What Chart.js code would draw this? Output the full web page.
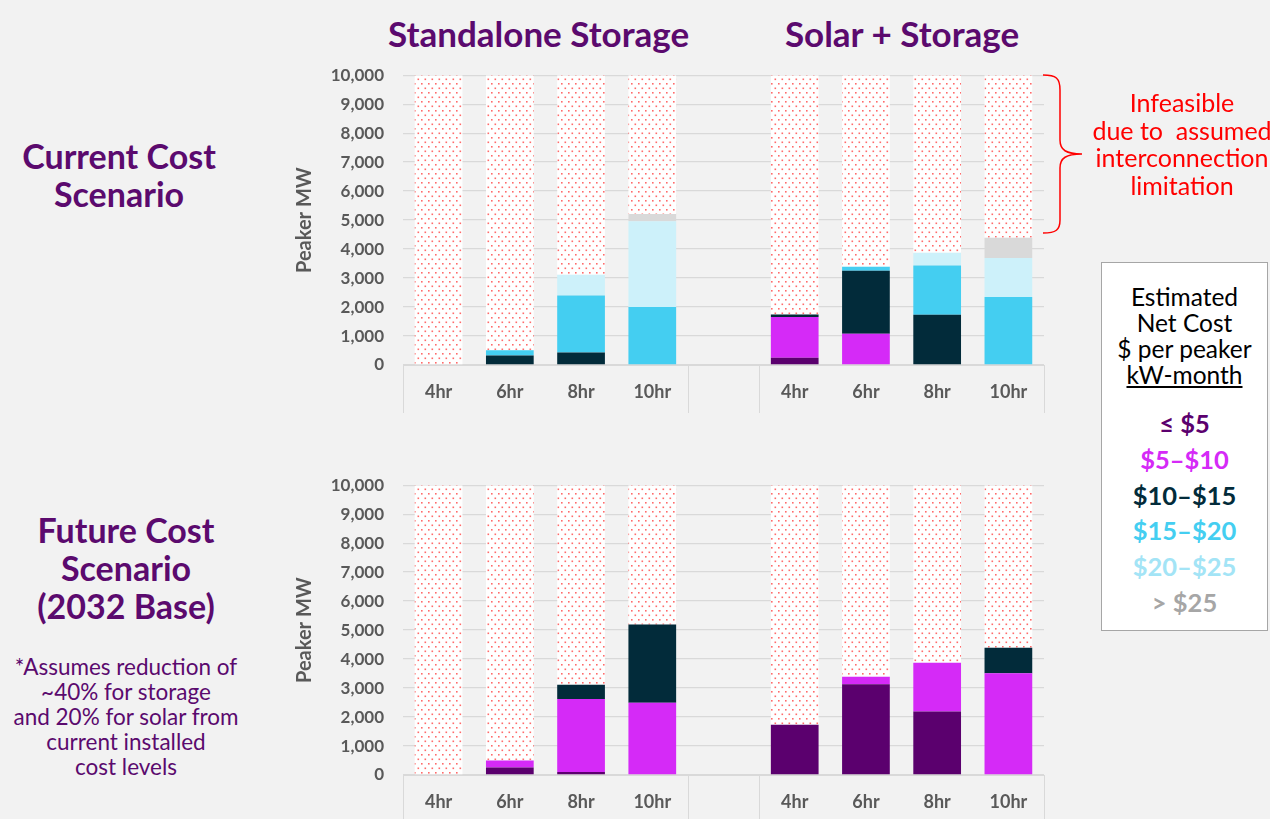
<!DOCTYPE html>
<html>
<head>
<meta charset="utf-8">
<script src="https://cdn.jsdelivr.net/npm/chart.js@4"></script>
<style>
  body { margin: 0; width: 1270px; height: 819px; background: #F2F2F2; position: relative; overflow: hidden; font-family: Lato, "Open Sans", sans-serif; }
  .abs { position: absolute; }
  .head { color: #5B0A6E; font-weight: bold; font-size: 35px; white-space: nowrap; text-align: center; }
  .side { color: #5B0A6E; font-weight: bold; font-size: 34px; line-height: 38px; text-align: center; white-space: nowrap; }
  .note { color: #5B0A6E; font-size: 22.5px; line-height: 25px; text-align: center; white-space: nowrap; }
  .red { color: #FF0000; font-size: 25px; line-height: 27.7px; text-align: center; white-space: nowrap; }
  #legend { left: 1101px; top: 262px; width: 165px; height: 367px; background: #fff; border: 1.5px solid #A6A6A6; text-align: center; }
  #legend .t { font-size: 24.5px; line-height: 26px; color: #000; margin-top: 21px; }
  #legend .b { font-size: 25.5px; font-weight: bold; line-height: 35.8px; margin-top: 18px; }
  canvas { position: absolute; }
</style>
</head>
<body>
<div class="abs head" style="left:388px; top:12px; width:300px;">Standalone Storage</div>
<div class="abs head" style="left:752px; top:12px; width:300px;">Solar + Storage</div>

<div class="abs side" style="left:0; top:137px; width:238px;">Current Cost<br>Scenario</div>
<div class="abs side" style="left:0; top:511px; width:252px;">Future Cost<br>Scenario<br>(2032 Base)</div>
<div class="abs note" style="left:0; top:654px; width:252px;">*Assumes reduction of<br>~40% for storage<br>and 20% for solar from<br>current installed<br>cost levels</div>

<canvas id="currentChart" width="780" height="374" style="left:280px; top:46px;"></canvas>
<canvas id="futureChart" width="780" height="374" style="left:280px; top:456px;"></canvas>

<svg class="abs" style="left:1038px; top:70px;" width="60" height="170">
  <path d="M5,5 C18,5 22,8 22,20 L22,70 C22,80 28,84 44,84 C28,84 22,88 22,98 L22,150 C22,160 18,163 5,163" fill="none" stroke="#FF0000" stroke-width="1.5"/>
</svg>
<div class="abs red" style="left:1090px; top:89px; width:184px;">Infeasible<br>due to&nbsp; assumed<br>interconnection<br>limitation</div>

<div id="legend" class="abs">
  <div class="t">Estimated<br>Net Cost<br>$ per peaker<br><u>kW-month</u></div>
  <div class="b" id="legendItems"></div>
</div>

<script>
// categories: two groups of durations with an empty spacer in between
const categories = ['4hr', '6hr', '8hr', '10hr', '', '4hr', '6hr', '8hr', '10hr'];
const costBands = ['≤ $5', '$5–$10', '$10–$15', '$15–$20', '$20–$25', '> $25'];
const bandColors = ['#5B006E', '#D52AF7', '#022B3A', '#44CEF1', '#CDF1FA', '#D9D9D9'];
const legendTextColors = ['#5B006E', '#D52AF7', '#022B3A', '#44CEF1', '#A3E4F6', '#A6A6A6'];
const yTicks = [0, 1000, 2000, 3000, 4000, 5000, 6000, 7000, 8000, 9000, 10000];

// Current cost scenario (MW)
const curLe5      = [0, 0, 0, 0, null, 250, 0, 0, 0];
const cur5to10    = [0, 0, 0, 0, null, 1410, 1080, 0, 0];
const cur10to15   = [0, 330, 430, 0, null, 80, 2170, 1730, 0];
const cur15to20   = [0, 180, 1970, 2000, null, 0, 140, 1700, 2350];
const cur20to25   = [0, 0, 710, 2960, null, 0, 0, 440, 1340];
const curOver25   = [0, 0, 0, 250, null, 0, 0, 0, 700];
const curInfeasible = [10000, 9490, 6890, 4790, null, 8260, 6610, 6130, 5610];

// Future cost scenario (2032 base)
const futLe5      = [0, 260, 100, 0, null, 1730, 3130, 2190, 0];
const fut5to10    = [0, 240, 2520, 2490, null, 0, 260, 1680, 3510];
const fut10to15   = [0, 0, 490, 2700, null, 0, 0, 0, 880];
const futInfeasible = [10000, 9500, 6890, 4810, null, 8270, 6610, 6130, 5610];

// legend entries
document.getElementById('legendItems').innerHTML = costBands
  .map((b, i) => `<div style="color:${legendTextColors[i]}">${b}</div>`).join('');

// dotted fill for the infeasible part
function dotPattern() {
  const c = document.createElement('canvas');
  c.width = 7; c.height = 9;
  const g = c.getContext('2d');
  g.fillStyle = '#ffffff';
  g.fillRect(0, 0, 7, 9);
  g.fillStyle = 'rgba(255,70,70,0.8)';
  g.fillRect(1, 1, 1.6, 1.6);
  g.fillRect(4.5, 5.5, 1.6, 1.6);
  return g.createPattern(c, 'repeat');
}
const infeasibleFill = dotPattern();

// category separators under the axis
const separators = {
  id: 'separators',
  afterDraw(chart) {
    const x = chart.scales.x, ctx = chart.ctx;
    const w = (x.right - x.left) / categories.length;
    const edges = [x.left, x.left + 4 * w, x.left + 5 * w, x.right];
    ctx.save();
    ctx.strokeStyle = '#D9D9D9';
    ctx.lineWidth = 1;
    edges.forEach(px => {
      ctx.beginPath();
      ctx.moveTo(Math.round(px) + 0.5, x.top);
      ctx.lineTo(Math.round(px) + 0.5, x.bottom);
      ctx.stroke();
    });
    ctx.restore();
  }
};

function makeChart(id, bands) {
  const datasets = bands.map(([label, data, color]) => ({
    label, data, backgroundColor: color, borderWidth: 0
  }));
  return new Chart(document.getElementById(id), {
    type: 'bar',
    data: { labels: categories, datasets },
    options: {
      responsive: false,
      animation: false,
      layout: { padding: { top: 0, bottom: 7, left: 0, right: 16 } },
      datasets: { bar: { categoryPercentage: 1, barPercentage: 0.67 } },
      plugins: { legend: { display: false }, tooltip: { enabled: false } },
      scales: {
        x: {
          stacked: true,
          grid: { display: false },
          border: { display: true, color: '#D9D9D9', width: 1 },
          ticks: { color: '#595959', font: { family: 'Lato', size: 18, weight: 'bold' }, padding: 8 },
          afterFit(s) { s.height = 48; }
        },
        y: {
          stacked: true,
          min: 0, max: 10000,
          afterBuildTicks(s) { s.ticks = yTicks.map(v => ({ value: v })); },
          grid: { color: '#D9D9D9', lineWidth: 1.3, drawTicks: false },
          border: { display: false },
          ticks: {
            color: '#595959', padding: 19,
            font: { family: 'Lato', size: 17, weight: 'bold' },
            callback: v => v.toLocaleString('en-US')
          },
          title: {
            display: true, text: 'Peaker MW', color: '#595959',
            font: { family: 'Lato', size: 20, weight: 'bold' },
            padding: { top: 13, bottom: 0 }
          },
          afterFit(s) { s.width = 123; }
        }
      }
    },
    plugins: [separators]
  });
}

makeChart('currentChart', [
  [costBands[0], curLe5, bandColors[0]],
  [costBands[1], cur5to10, bandColors[1]],
  [costBands[2], cur10to15, bandColors[2]],
  [costBands[3], cur15to20, bandColors[3]],
  [costBands[4], cur20to25, bandColors[4]],
  [costBands[5], curOver25, bandColors[5]],
  ['Infeasible', curInfeasible, infeasibleFill]
]);

makeChart('futureChart', [
  [costBands[0], futLe5, bandColors[0]],
  [costBands[1], fut5to10, bandColors[1]],
  [costBands[2], fut10to15, bandColors[2]],
  ['Infeasible', futInfeasible, infeasibleFill]
]);
</script>
</body>
</html>
